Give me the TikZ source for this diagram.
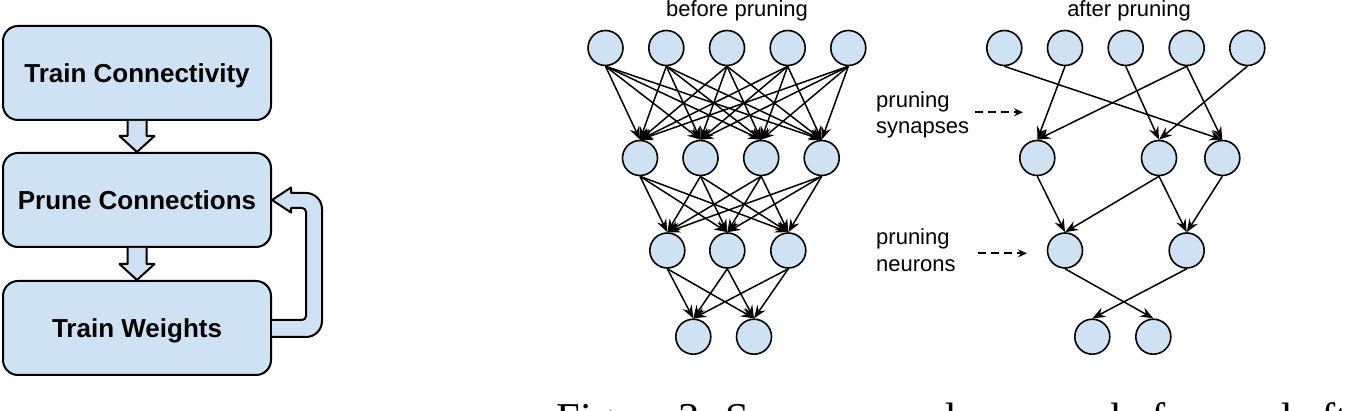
\documentclass[tikz,border=0pt]{standalone}
\usepackage{fontspec}
\setmainfont{Liberation Sans}
\newfontfamily\captionserif{Liberation Serif}
\usetikzlibrary{arrows.meta,calc}
\definecolor{cellblue}{HTML}{CFE2F3}

\begin{document}
\begin{tikzpicture}[
    x=1pt, y=-1pt,
    every node/.style={font=\fontsize{22}{26.5}\selectfont},
    stage/.style={
        draw,
        line width=2pt,
        rounded corners=15pt,
        fill=cellblue,
        minimum width=268pt,
        minimum height=94pt,
        inner sep=0pt,
        text height=18.6pt,
        text depth=0pt,
        font=\fontsize{26}{30}\selectfont\bfseries
    },
    flow/.style={draw, line width=2pt, fill=cellblue, line join=round},
    neuron/.style={
        circle,
        draw,
        line width=1.6pt,
        fill=cellblue,
        minimum size=35pt,
        inner sep=0pt
    },
    syn/.style={-{Stealth[length=13pt, width=10pt, inset=4.5pt]}, line width=1.5pt},
    hint/.style={-{Stealth[length=9pt, width=8pt, inset=3pt]}, line width=1.6pt,
        dash pattern=on 8pt off 5pt},
    lbl/.style={inner sep=0pt, align=left}
]
    \useasboundingbox (0,0) rectangle (1349,411);
    \clip (0,0) rectangle (1349,411);

    % Left: training pipeline
    \node[stage] (tc) at (137, 73) {Train Connectivity};
    \node[stage] (pc) at (137,200) {Prune Connections};
    \node[stage] (tw) at (137,328) {Train Weights};

    \draw[flow] ([xshift=-9.5pt]tc.south) -- ++(0,15) -- ++(-8,0) -- (pc.north)
        -- ++(17.5,-16) -- ++(-8,0) -- ([xshift=9.5pt]tc.south);
    \draw[flow] ([xshift=-9.5pt]pc.south) -- ++(0,16) -- ++(-8,0) -- (tw.north)
        -- ++(17.5,-16) -- ++(-8,0) -- ([xshift=9.5pt]pc.south);

    % feedback loop
    \draw[flow] ([yshift=8pt]tw.east) [rounded corners=4pt] -- ++(34,0)
        -- ([xshift=34pt,yshift=-8pt]pc.east) [sharp corners] -- ++(-15,0)
        -- ++(0,4.5) -- (pc.east) -- ++(19,-12.5) -- ++(0,5.5)
        [rounded corners=16pt] -- ++(31,0)
        -- ([xshift=50pt,yshift=-9pt]tw.east) [sharp corners]
        -- ([yshift=-9pt]tw.east);

    % Before pruning
    \node[anchor=base, inner sep=0pt] (titA) at (737,16.5) {before pruning};

    \node[neuron] (inA1) at (605.5,48) {};
    \node[neuron] (inA2) at (666.3,48) {};
    \node[neuron] (inA3) at (727.0,48) {};
    \node[neuron] (inA4) at (787.7,48) {};
    \node[neuron] (inA5) at (848.3,48) {};

    \node[neuron] (hidA1) at (640.0,158) {};
    \node[neuron] (hidA2) at (700.5,158) {};
    \node[neuron] (hidA3) at (761.2,158) {};
    \node[neuron] (hidA4) at (821.7,158) {};

    \node[neuron] (midA1) at (667.3,250.5) {};
    \node[neuron] (midA2) at (727.3,250.5) {};
    \node[neuron] (midA3) at (788.3,250.5) {};

    \node[neuron] (outA1) at (693.3,336.7) {};
    \node[neuron] (outA2) at (754.0,336.7) {};

    \foreach \i in {1,...,5}
        \foreach \j in {1,...,4}
            \draw[syn] (inA\i.south) -- (hidA\j.north);
    \foreach \i in {1,...,4}
        \foreach \j in {1,...,3}
            \draw[syn] (hidA\i.south) -- (midA\j.north);
    \foreach \i in {1,...,3}
        \foreach \j in {1,2}
            \draw[syn] (midA\i.south) -- (outA\j.north);

    % After pruning
    \node[anchor=base, inner sep=0pt] (titB) at (1129,16.5) {after pruning};

    \node[neuron] (inB1) at (1004.3,48) {};
    \node[neuron] (inB2) at (1065.0,48) {};
    \node[neuron] (inB3) at (1125.7,48) {};
    \node[neuron] (inB4) at (1186.7,48) {};
    \node[neuron] (inB5) at (1247.3,48) {};

    \node[neuron] (hidB1) at (1037.3,158) {};
    \node[neuron] (hidB3) at (1159.0,158) {};
    \node[neuron] (hidB4) at (1222.3,158) {};

    \node[neuron] (midB1) at (1065.0,250.5) {};
    \node[neuron] (midB3) at (1186.7,250.5) {};

    \node[neuron] (outB1) at (1092.3,336.7) {};
    \node[neuron] (outB2) at (1153.3,336.7) {};

    \draw[syn] (inB1.south) -- (hidB4.north);
    \draw[syn] (inB2.south) -- (hidB1.north);
    \draw[syn] (inB3.south) -- (hidB3.north);
    \draw[syn] (inB4.south) -- (hidB1.north);
    \draw[syn] (inB4.south) -- (hidB4.north);
    \draw[syn] (inB5.south) -- (hidB3.north);
    \draw[syn] (hidB1.south) -- (midB1.north);
    \draw[syn] (hidB3.south) -- (midB1.north);
    \draw[syn] (hidB3.south) -- (midB3.north);
    \draw[syn] (hidB4.south) -- (midB3.north);
    \draw[syn] (midB1.south) -- (outB2.north);
    \draw[syn] (midB3.south) -- (outB1.north);

    % Annotations
    \node[lbl, anchor=base west] (synlbl) at (876,134) {pruning\\synapses};
    \node[lbl, anchor=base west] (neulbl) at (876,271.3) {pruning\\neurons};

    \coordinate (synA) at (975,112.3);
    \coordinate (synB) at (1023,112.3);
    \coordinate (neuA) at (978,253.3);
    \coordinate (neuB) at (1027,253.3);
    \draw[hint] (synA) -- (synB);
    \draw[hint] (neuA) -- (neuB);

    % Caption (cut off at the bottom edge)
    \node[anchor=base west, inner sep=0pt, font=\captionserif\fontsize{42.5}{48}\selectfont]
        (cap) at (556.7,432) {Figure 3: Synapses and neurons before and after pruning.};

\end{tikzpicture}
\end{document}
